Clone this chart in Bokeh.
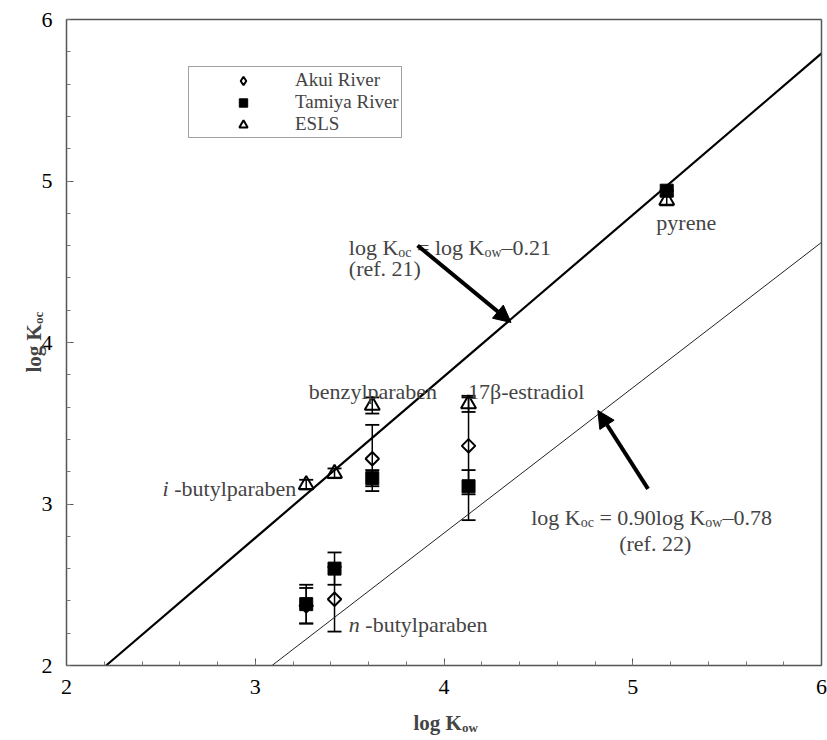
from bokeh.plotting import figure
from bokeh.models import (Range1d, SingleIntervalTicker, FixedTicker, LinearAxis, ColumnDataSource,
                          Whisker, TeeHead, Arrow, NormalHead, Label, Legend, LegendItem,
                          CDSView, IndexFilter)
from bokeh.embed import file_html
from bokeh.resources import INLINE
import math

# ---------------- data ----------------
kow_akui = [3.27, 3.42, 3.62, 4.13]
koc_akui = [2.37, 2.41, 3.28, 3.36]
akui_err_lo = [0.11, 0.20, 0.20, 0.30]
akui_err_hi = [0.11, 0.20, 0.21, 0.30]

kow_tamiya = [3.27, 3.42, 3.62, 4.13, 5.18]
koc_tamiya = [2.38, 2.60, 3.16, 3.11, 4.94]
tamiya_err_lo = [0.12, 0.10, 0.05, 0.21, 0.00]
tamiya_err_hi = [0.12, 0.10, 0.05, 0.10, 0.00]

kow_esls = [3.27, 3.42, 3.62, 4.13, 5.18]
koc_esls = [3.12, 3.19, 3.61, 3.62, 4.88]
esls_err_lo = [0.03, 0.03, 0.05, 0.05, 0.03]
esls_err_hi = [0.03, 0.03, 0.05, 0.05, 0.03]

series_names = ["Akui River", "Tamiya River", "ESLS"]

# regression lines: log Koc = slope * log Kow + intercept
line_slopes = [1.00, 0.90]
line_intercepts = [-0.21, -0.78]

axis_min, axis_max = 2, 6

# compound labels (italic prefix, text, x, y baseline in data units)
compound_prefix = ["", "", "i", "n", ""]
compound_text = ["benzylparaben", "17β-estradiol", " -butylparaben", " -butylparaben", "pyrene"]
compound_x = [3.284, 4.127, 2.509, 3.496, 5.125]
compound_y = [3.697, 3.697, 3.096, 2.254, 4.743]

# arrows (tail -> tip)
arrow_x0 = [3.860, 5.081]
arrow_y0 = [4.601, 3.094]
arrow_x1 = [4.355, 4.815]
arrow_y1 = [4.124, 3.579]

FONT = "Liberation Serif"

# Times / Liberation Serif advance widths (per 1000 em)
REG = {'l': 278, 'o': 500, 'g': 500, ' ': 250, 'K': 722, 'c': 444, 'w': 722, '=': 564,
       '–': 500, '.': 250, 'i': 278, 'n': 500}
for d in "0123456789":
    REG[d] = 500
BOLD = dict(REG)
BOLD['K'] = 778


def tw(s, size, bold=False):
    tab = BOLD if bold else REG
    return sum(tab.get(ch, 500) for ch in s) * size / 1000.0


# frame geometry: the frame fills the canvas, axes are placed at fixed data locations
W, H = 827, 740
FL, FR, FT, FB = 66, 821, 19, 665
sx = (FR - FL) / (axis_max - axis_min)
sy = (FB - FT) / (axis_max - axis_min)
x_range = Range1d(axis_min - FL / sx, axis_max + (W - FR) / sx)
y_range = Range1d(axis_min - (H - FB) / sy, axis_max + FT / sy)

p = figure(width=W, height=H, x_range=x_range, y_range=y_range,
           output_backend="svg", toolbar_location=None, min_border=0,
           x_axis_type=None, y_axis_type=None)
p.background_fill_color = "white"
p.border_fill_color = "white"
p.outline_line_color = None
p.grid.visible = False

AX_COLOR = "#555555"


def style_axis(ax, standoff):
    ax.axis_line_color = AX_COLOR
    ax.axis_line_width = 1.5
    ax.major_tick_line_color = AX_COLOR
    ax.minor_tick_line_color = "#777777"
    ax.major_tick_in = 7
    ax.major_tick_out = 0
    ax.minor_tick_in = 4
    ax.minor_tick_out = 0
    ax.major_label_text_font = FONT
    ax.major_label_text_font_size = "22px"
    ax.major_label_text_color = "black"
    ax.major_label_standoff = standoff


xax = LinearAxis(fixed_location=axis_min, bounds=(axis_min, axis_max),
                 ticker=SingleIntervalTicker(interval=1, num_minor_ticks=5))
style_axis(xax, 14)
p.add_layout(xax, "below")
yax = LinearAxis(fixed_location=axis_min, bounds=(axis_min, axis_max),
                 ticker=SingleIntervalTicker(interval=1, num_minor_ticks=5))
style_axis(yax, 14)
p.add_layout(yax, "left")
for place in ("above", "right"):
    ax = LinearAxis(fixed_location=axis_max, bounds=(axis_min, axis_max),
                    ticker=FixedTicker(ticks=[]))
    ax.axis_line_color = AX_COLOR
    ax.axis_line_width = 1.5
    ax.major_tick_line_color = None
    ax.minor_tick_line_color = None
    p.add_layout(ax, place)

# regression lines, drawn between y = axis_min and x = axis_max
for a, b, lw, col in zip(line_slopes, line_intercepts, [2.2, 1.0], ["black", "#222222"]):
    xs = [(axis_min - b) / a, axis_max]
    p.line(xs, [a * x + b for x in xs], line_color=col, line_width=lw)


def whiskers(xs, ys, lo, hi):
    src = ColumnDataSource(dict(x=xs, lower=[y - e for y, e in zip(ys, lo)],
                                upper=[y + e for y, e in zip(ys, hi)]))
    w = Whisker(source=src, base="x", lower="lower", upper="upper",
                line_color="black", line_width=1.5,
                lower_head=TeeHead(size=14, line_width=1.8, line_color="black"),
                upper_head=TeeHead(size=14, line_width=1.8, line_color="black"))
    p.add_layout(w)


whiskers(kow_akui, koc_akui, akui_err_lo, akui_err_hi)
whiskers(kow_tamiya, koc_tamiya, tamiya_err_lo, tamiya_err_hi)
whiskers(kow_esls, koc_esls, esls_err_lo, esls_err_hi)

akui_src = ColumnDataSource(dict(x=kow_akui, y=koc_akui))
# legend swatch for the diamond series: one small point drawn underneath everything
r_akui_leg = p.scatter("x", "y", source=akui_src, view=CDSView(filter=IndexFilter(indices=[0])),
                       marker="diamond", size=7, fill_alpha=0, level="underlay",
                       line_color="black", line_width=2)
r_tamiya = p.scatter(kow_tamiya, koc_tamiya, marker="square", size=13,
                     fill_color="black", line_color="black", line_width=1)
p.scatter("x", "y", source=akui_src, marker="square", angle=math.pi / 4, size=9.5,
          fill_alpha=0, line_color="black", line_width=2)
r_esls = p.scatter(kow_esls, koc_esls, marker="triangle", size=15,
                   fill_alpha=0, line_color="black", line_width=2)

legend = Legend(items=[LegendItem(label=series_names[0], renderers=[r_akui_leg]),
                       LegendItem(label=series_names[1], renderers=[r_tamiya]),
                       LegendItem(label=series_names[2], renderers=[r_esls])],
                location=(188, H - 138), orientation="vertical",
                label_text_font=FONT, label_text_font_size="19px",
                padding=2, spacing=0, glyph_width=104, glyph_height=21, label_height=20,
                label_standoff=0, margin=0,
                border_line_color="#444444", border_line_width=1.5,
                background_fill_color="white", background_fill_alpha=1)
p.add_layout(legend)

# compound labels
for pre, txt, x, y in zip(compound_prefix, compound_text, compound_x, compound_y):
    off = 0
    if pre:
        p.add_layout(Label(x=x, y=y, text=pre, text_font=FONT, text_font_size="22px",
                           text_font_style="italic", text_baseline="alphabetic"))
        off = tw(pre, 22)
    lead = len(txt) - len(txt.lstrip(" "))
    off += tw(" " * lead, 22)
    p.add_layout(Label(x=x, y=y, x_offset=off, text=txt.strip(), text_font=FONT,
                       text_font_size="22px", text_baseline="alphabetic"))


def composed(x, y, parts, size, sub, bold=False, angle=0.0):
    """parts: list of (text, is_subscript); spaces are turned into offsets"""
    off = 0.0
    for txt, is_sub in parts:
        fs = sub if is_sub else size
        lead = len(txt) - len(txt.lstrip(" "))
        off += tw(" " * lead, fs, bold)
        core = txt.strip(" ")
        if angle == 0:
            xo, yo = off, (-5 if is_sub else 0)
        else:
            xo, yo = (5 if is_sub else 0), off
        p.add_layout(Label(x=x, y=y, x_offset=xo, y_offset=yo, text=core, text_font=FONT,
                           text_font_size=f"{fs}px", text_baseline="alphabetic",
                           text_font_style="bold" if bold else "normal", angle=angle))
        off += tw(core, fs, bold)
        trail = len(txt) - len(txt.rstrip(" "))
        off += tw(" " * trail, fs, bold)


# equations
composed(3.496, 4.588, [("log K", False), ("oc", True), (" = log K", False), ("ow", True),
                        ("–0.21", False)], 22, 14)
p.add_layout(Label(x=3.496, y=4.458, text="(ref. 21)", text_font=FONT, text_font_size="22px",
                   text_baseline="alphabetic"))
composed(4.462, 2.916, [("log K", False), ("oc", True), (" = 0.90log K", False), ("ow", True),
                        ("–0.78", False)], 22, 14)
p.add_layout(Label(x=4.928, y=2.755, text="(ref. 22)", text_font=FONT, text_font_size="22px",
                   text_baseline="alphabetic"))

# arrows
for x0, y0, x1, y1 in zip(arrow_x0, arrow_y0, arrow_x1, arrow_y1):
    p.add_layout(Arrow(x_start=x0, y_start=y0, x_end=x1, y_end=y1, line_width=4,
                       line_color="black",
                       end=NormalHead(size=17, fill_color="black", line_color="black")))

# axis titles
composed(axis_min + (413 - FL) / sx, axis_max - (722 - FT) / sy,
         [("log K", False), ("ow", True)], 21, 13, bold=True)
composed(axis_min + (33 - FL) / sx, axis_max - (372 - FT) / sy,
         [("log K", False), ("oc", True)], 21, 13, bold=True, angle=math.pi / 2)

open("out.html", "w").write(file_html(p, INLINE))
